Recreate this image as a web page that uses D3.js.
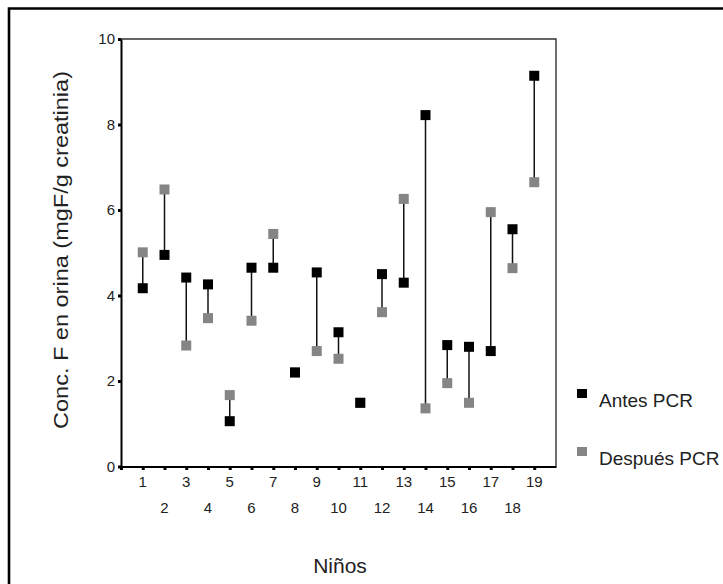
<!DOCTYPE html>
<html>
<head>
<meta charset="utf-8">
<script src="https://cdn.jsdelivr.net/npm/d3@7"></script>
<style>
  html, body { margin: 0; padding: 0; background: #fff; }
  svg { display: block; }
  text { font-family: "Liberation Sans", Arial, sans-serif; fill: #222; }
</style>
</head>
<body>
<svg id="chart" width="723" height="584"></svg>
<script>
const ninos   = [1,2,3,4,5,6,7,8,9,10,11,12,13,14,15,16,17,18,19];
const antes   = [4.17,4.95,4.42,4.26,1.06,4.65,4.65,2.20,4.54,3.14,1.49,4.50,4.30,8.22,2.84,2.80,2.70,5.55,9.14];
const despues = [5.01,6.48,2.83,3.47,1.67,3.41,5.44,2.20,2.70,2.52,1.49,3.61,6.26,1.36,1.95,1.49,5.95,4.64,6.65];
const yTicks  = [0,2,4,6,8,10];
const seriesNames = ["Antes PCR", "Después PCR"];
const seriesColors = ["#000000", "#858585"];
const yTitle = "Conc. F en orina (mgF/g creatinia)";
const xTitle = "Niños";

const svg = d3.select("#chart");
const pL = 121, pR = 556, pT = 39, pB = 466.5;

const x = d3.scaleLinear().domain([0, 20]).range([pL, pR]);
const y = d3.scaleLinear().domain([0, 10]).range([pB, pT]);

// outer frame (clipped at right and bottom)
svg.append("path")
  .attr("d", `M9,590V8.5H730`)
  .attr("fill", "none").attr("stroke", "#000").attr("stroke-width", 2.6);

// plot frame top/right
svg.append("path")
  .attr("d", `M${pL},${pT}H${pR}V${pB}`)
  .attr("fill", "none").attr("stroke", "#333").attr("stroke-width", 1.4);

// y axis
const yAxis = svg.append("g").attr("transform", `translate(${pL},0)`)
  .call(d3.axisLeft(y).tickValues(yTicks).tickSize(3).tickSizeOuter(0).tickPadding(3));
yAxis.select(".domain").attr("stroke", "#000").attr("stroke-width", 2);
yAxis.selectAll(".tick line").attr("stroke", "#000").attr("stroke-width", 3);
yAxis.selectAll(".tick text").style("font-size", "15px").attr("fill", "#222");

// x axis
const xAxis = svg.append("g").attr("transform", `translate(0,${pB})`)
  .call(d3.axisBottom(x).tickValues([0].concat(ninos)).tickSize(3.5).tickSizeOuter(0).tickFormat(""));
xAxis.select(".domain").attr("stroke", "#000").attr("stroke-width", 2);
xAxis.selectAll(".tick line").attr("stroke", "#000").attr("stroke-width", 3);

// staggered x labels
svg.append("g").selectAll("text").data(ninos).join("text")
  .attr("x", d => x(d))
  .attr("y", d => d % 2 === 1 ? 487 : 513)
  .attr("text-anchor", "middle")
  .style("font-size", "15px")
  .text(d => d);

// connecting lines
svg.append("g").selectAll("line").data(ninos).join("line")
  .attr("x1", (d) => x(d)).attr("x2", (d) => x(d))
  .attr("y1", (d, i) => y(antes[i])).attr("y2", (d, i) => y(despues[i]))
  .attr("stroke", "#111").attr("stroke-width", 1.5);

const ms = 10;
// después (gray)
svg.append("g").selectAll("rect").data(ninos).join("rect")
  .attr("x", d => x(d) - ms / 2)
  .attr("y", (d, i) => y(despues[i]) - ms / 2)
  .attr("width", ms).attr("height", ms)
  .attr("fill", seriesColors[1]);
// antes (black)
svg.append("g").selectAll("rect").data(ninos).join("rect")
  .attr("x", d => x(d) - ms / 2)
  .attr("y", (d, i) => y(antes[i]) - ms / 2)
  .attr("width", ms).attr("height", ms)
  .attr("fill", seriesColors[0]);

// y title
svg.append("text")
  .attr("transform", `translate(68,250) rotate(-90)`)
  .attr("text-anchor", "middle")
  .style("font-size", "19.5px")
  .attr("fill", "#333")
  .attr("textLength", 358).attr("lengthAdjust", "spacingAndGlyphs")
  .text(yTitle);

// x title
svg.append("text")
  .attr("x", 340).attr("y", 573)
  .attr("text-anchor", "middle")
  .style("font-size", "21px")
  .attr("fill", "#333")
  .text(xTitle);

// legend
const legY = [389, 447];
const leg = svg.append("g");
seriesNames.forEach((name, i) => {
  leg.append("rect").attr("x", 577).attr("y", legY[i]).attr("width", 10).attr("height", 9)
    .attr("fill", seriesColors[i]);
  leg.append("text").attr("x", 599).attr("y", legY[i] + 18)
    .style("font-size", "19px").text(name);
});
</script>
</body>
</html>
